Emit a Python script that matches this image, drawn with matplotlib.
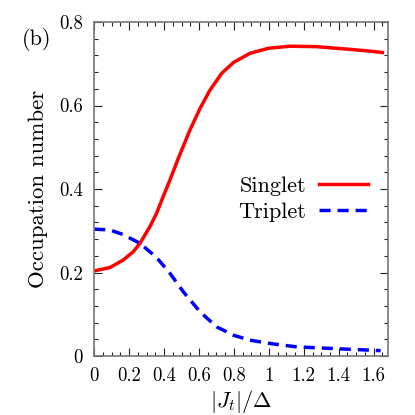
import numpy as np
import matplotlib.pyplot as plt
from matplotlib.ticker import MultipleLocator, FuncFormatter

plt.rcParams["font.family"] = "serif"
plt.rcParams["font.serif"] = ["cmr10"]
plt.rcParams["mathtext.fontset"] = "cm"
plt.rcParams["axes.formatter.use_mathtext"] = True

# Data
jt_singlet = [0.0, 0.09, 0.166, 0.224, 0.262, 0.319, 0.357, 0.395, 0.434,
              0.481, 0.548, 0.606, 0.663, 0.730, 0.797, 0.892, 0.997, 1.12,
              1.27, 1.45, 1.56, 1.65]
singlet = [0.204, 0.212, 0.230, 0.250, 0.270, 0.310, 0.342, 0.382, 0.422,
           0.473, 0.541, 0.593, 0.637, 0.677, 0.703, 0.725, 0.737, 0.742,
           0.741, 0.735, 0.731, 0.727]

jt_triplet = [0.0, 0.09, 0.166, 0.262, 0.357, 0.434, 0.51, 0.606, 0.701,
              0.797, 0.892, 1.026, 1.16, 1.37, 1.64]
triplet = [0.304, 0.302, 0.291, 0.270, 0.236, 0.198, 0.154, 0.106, 0.070,
           0.050, 0.038, 0.029, 0.022, 0.018, 0.013]

fig = plt.figure(figsize=(4.15, 4.15), dpi=100)
ax = fig.add_axes([0.227, 0.142, 0.707, 0.805])

ax.plot(jt_singlet, singlet, color="#ff0000", lw=2.5, label="Singlet")
ax.plot(jt_triplet, triplet, color="#0000ff", lw=2.5, ls=(0, (3.2, 2.0)),
        label="Triplet")

ax.set_xlim(0, 1.68)
ax.set_ylim(0, 0.8)
ax.xaxis.set_major_locator(MultipleLocator(0.2))
ax.xaxis.set_minor_locator(MultipleLocator(0.05))
ax.yaxis.set_major_locator(MultipleLocator(0.2))
ax.yaxis.set_minor_locator(MultipleLocator(0.04))


def fmt(v, pos):
    s = f"{v:.1f}"
    if s.endswith(".0"):
        s = s[:-2]
    return s


ax.xaxis.set_major_formatter(FuncFormatter(fmt))
ax.yaxis.set_major_formatter(FuncFormatter(fmt))
ax.tick_params(which="both", direction="in", top=True, right=True,
               labelsize=13.5, color="#222222")
ax.tick_params(which="major", length=6, width=0.8, pad=8)
ax.tick_params(which="minor", length=3, width=0.8)
for sp in ax.spines.values():
    sp.set_color("#777777")
    sp.set_linewidth(1.2)

ax.set_xlabel(r"$|J_t|/\Delta$", fontsize=16, labelpad=2)
ax.set_ylabel("Occupation number", fontsize=16.5, labelpad=8)
fig.text(0.052, 0.905, "(b)", fontsize=16, ha="left", va="center")

ax.legend(loc="center right", bbox_to_anchor=(1.0, 0.47), frameon=False,
          markerfirst=False, fontsize=16, handlelength=2.2,
          handletextpad=0.55, labelspacing=0.3)

fig.savefig("out.png", dpi=100)
